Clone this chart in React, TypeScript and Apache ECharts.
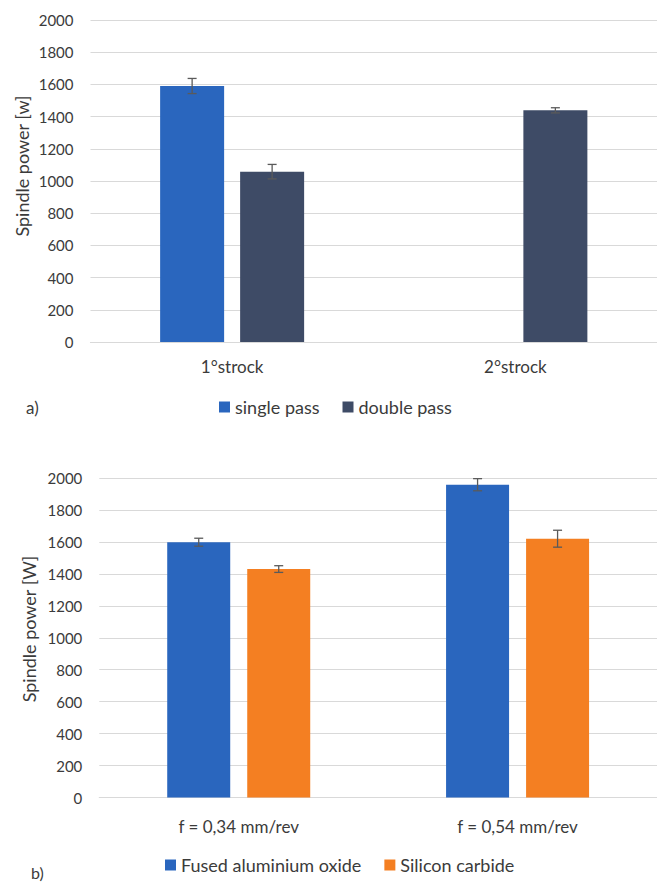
import React, { useEffect, useRef } from "react";
import * as echarts from "echarts";

// ---- Data (a) ----
const categoriesA = ["1°strock", "2°strock"];
const singlePass: (number | null)[] = [1590, null];
const singlePassErr: (number | null)[] = [47, null];
const doublePass = [1058, 1439];
const doublePassErr = [45, 16];

// ---- Data (b) ----
const categoriesB = ["f = 0,34 mm/rev", "f = 0,54 mm/rev"];
const fusedAlu = [1598, 1958];
const fusedAluErr = [25, 38];
const siliconCarbide = [1430, 1620];
const siliconCarbideErr = [21, 53];

// ---- Axis ----
const yMin = 0;
const yMax = 2000;
const yStep = 200;
const yTitle = ["Spindle power [w]", "Spindle power [W]"];
const panelLabels = ["a)", "b)"];

const FONT = "Lato, 'Open Sans', sans-serif";
const TXT = "#3b3b3b";
const GRID = "#d9d9d9";
const BLUE = "#2a66be";
const SLATE = "#3e4b66";
const ORANGE = "#f47f22";
const ERR = "#5a5a5a";

function errSeries(vals: (number | null)[], errs: (number | null)[], offset: number, axisIdx: number) {
  const data: number[][] = [];
  vals.forEach((v, i) => {
    if (v != null && errs[i] != null) data.push([i, v, errs[i] as number]);
  });
  return {
    type: "custom",
    xAxisIndex: axisIdx,
    yAxisIndex: axisIdx,
    z: 10,
    silent: true,
    data,
    renderItem: (_p: any, api: any) => {
      const cat = api.value(0);
      const v = api.value(1);
      const e = api.value(2);
      const c = api.coord([cat, v]);
      const x = c[0] + offset;
      const hi = api.coord([cat, v + e])[1];
      const lo = api.coord([cat, v - e])[1];
      const st = { stroke: ERR, lineWidth: 1.3 };
      const cw = 4.5;
      return {
        type: "group",
        children: [
          { type: "line", shape: { x1: x, y1: hi, x2: x, y2: lo }, style: st },
          { type: "line", shape: { x1: x - cw, y1: hi, x2: x + cw, y2: hi }, style: st },
          { type: "line", shape: { x1: x - cw, y1: lo, x2: x + cw, y2: lo }, style: st },
        ],
      };
    },
  };
}

export default function App() {
  const ref = useRef<HTMLDivElement>(null);
  useEffect(() => {
    if (!ref.current) return;
    const chart = echarts.init(ref.current, null, { renderer: "svg" });
    const yAxisBase = {
      type: "value",
      min: yMin,
      max: yMax,
      interval: yStep,
      axisLine: { show: false },
      axisTick: { show: false },
      splitLine: { lineStyle: { color: GRID, width: 1.2 } },
      axisLabel: { fontFamily: FONT, fontSize: 15, color: TXT, margin: 17, formatter: (v: number) => String(v) },
    };
    const xAxisBase = {
      type: "category",
      axisTick: { show: false },
      axisLine: { lineStyle: { color: GRID, width: 1.2 } },
    };
    chart.setOption({
      animation: false,
      grid: [
        { left: 90.5, top: 20, width: 570, height: 322 },
        { left: 99.3, top: 478, width: 571, height: 319.5 },
      ],
      xAxis: [
        { ...xAxisBase, gridIndex: 0, data: categoriesA, axisLabel: { fontFamily: FONT, fontSize: 17, color: TXT, margin: 16 } },
        { ...xAxisBase, gridIndex: 1, data: categoriesB, axisLabel: { fontFamily: FONT, fontSize: 17, color: TXT, margin: 20 } },
      ],
      yAxis: [
        { ...yAxisBase, gridIndex: 0 },
        { ...yAxisBase, gridIndex: 1 },
      ],
      legend: [
        {
          data: ["single pass", "double pass"],
          left: 219,
          top: 398,
          padding: 0,
          icon: "rect",
          itemWidth: 11,
          itemHeight: 11,
          itemGap: 23,
          textStyle: { fontFamily: FONT, fontSize: 18, color: TXT },
        },
        {
          data: ["Fused aluminium oxide", "Silicon carbide"],
          left: 165,
          top: 856,
          padding: 0,
          icon: "rect",
          itemWidth: 11,
          itemHeight: 11,
          itemGap: 23,
          textStyle: { fontFamily: FONT, fontSize: 18, color: TXT },
        },
      ],
      series: [
        { name: "single pass", type: "bar", xAxisIndex: 0, yAxisIndex: 0, data: singlePass, barWidth: 64, barGap: "25%", itemStyle: { color: BLUE } },
        { name: "double pass", type: "bar", xAxisIndex: 0, yAxisIndex: 0, data: doublePass, barWidth: 64, barGap: "25%", itemStyle: { color: SLATE } },
        errSeries(singlePass, singlePassErr, -40, 0),
        errSeries(doublePass, doublePassErr, 40, 0),
        { name: "Fused aluminium oxide", type: "bar", xAxisIndex: 1, yAxisIndex: 1, data: fusedAlu, barWidth: 63, barGap: "27%", itemStyle: { color: BLUE } },
        { name: "Silicon carbide", type: "bar", xAxisIndex: 1, yAxisIndex: 1, data: siliconCarbide, barWidth: 63, barGap: "27%", itemStyle: { color: ORANGE } },
        errSeries(fusedAlu, fusedAluErr, -40, 1),
        errSeries(siliconCarbide, siliconCarbideErr, 40, 1),
      ],
      graphic: [
        {
          type: "text",
          x: 22,
          y: 166,
          rotation: Math.PI / 2,
          style: { text: yTitle[0], font: `18px ${FONT}`, fill: TXT, textAlign: "center", textVerticalAlign: "middle" },
        },
        {
          type: "text",
          x: 29,
          y: 629,
          rotation: Math.PI / 2,
          style: { text: yTitle[1], font: `18px ${FONT}`, fill: TXT, textAlign: "center", textVerticalAlign: "middle" },
        },
        {
          type: "text",
          x: 26,
          y: 407,
          style: { text: panelLabels[0], font: `17px ${FONT}`, fill: TXT, textAlign: "left", textVerticalAlign: "middle" },
        },
        {
          type: "text",
          x: 31,
          y: 872,
          style: { text: panelLabels[1], font: `16px ${FONT}`, fill: TXT, textAlign: "left", textVerticalAlign: "middle" },
        },
      ],
    });
    return () => chart.dispose();
  }, []);
  return (
    <div
      ref={ref}
      style={{ position: "absolute", left: 0, top: 0, width: 657, height: 883, background: "#fff" }}
    />
  );
}
